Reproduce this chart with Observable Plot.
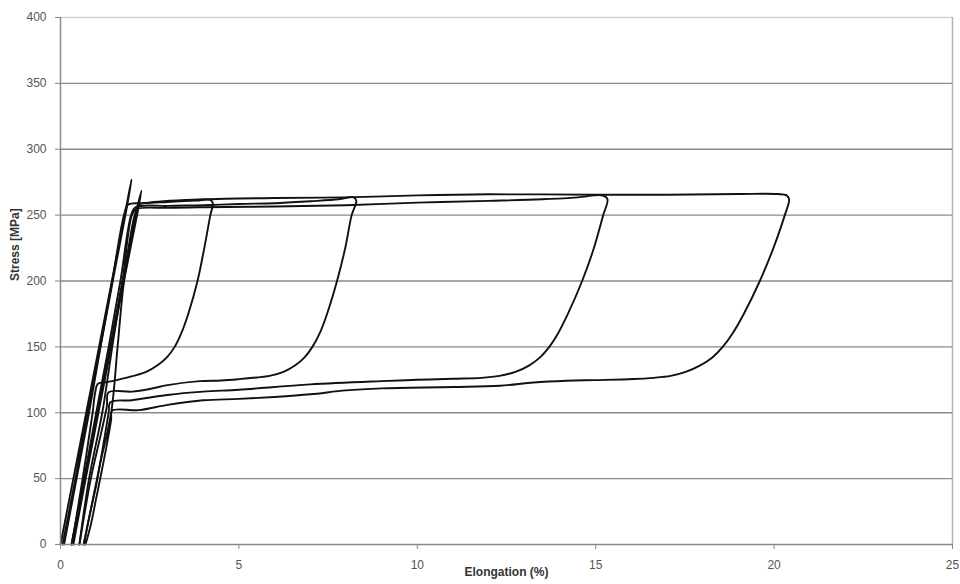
<!DOCTYPE html>
<html>
<head>
<meta charset="utf-8">
<script src="https://cdn.jsdelivr.net/npm/d3@7"></script>
<script src="https://cdn.jsdelivr.net/npm/@observablehq/plot@0.6"></script>
<style>
  html, body { margin: 0; padding: 0; background: #fff; }
  #chart { width: 960px; height: 584px; }
</style>
</head>
<body>
<div id="chart"></div>
<script>
// Tick values
const xTicks = [0, 5, 10, 15, 20, 25];
const yTicks = [0, 50, 100, 150, 200, 250, 300, 350, 400];

// Loops: [elongation %, stress MPa]
const spikeA = [[0,0],[0.36,50],[0.72,100],[1.08,150],[1.44,200],[1.8,250],[1.99,277],[1.86,256],[1.5,205],[1.12,150],[0.76,100],[0.42,50],[0.06,0]];
const spikeB = [[0.31,0],[0.67,50],[1.03,100],[1.39,150],[1.74,200],[2.1,250],[2.27,268.6],[2.16,252],[1.8,203],[1.1,105],[0.72,52],[0.36,0]];
const loop43 = [[0.1,0],[0.45,50],[0.8,100],[1.12,150],[1.45,200],[1.78,250],[1.9,258],[2.3,259],[3.0,260],[3.8,261],[4.2,261.5],[4.27,259],[4.2,250],[4.03,225],[3.84,200],[3.58,175],[3.38,160],[3.2,150],[2.98,142],[2.72,136],[2.4,131],[2.05,128],[1.6,125],[1.3,123.3],[1.05,122],[0.97,115],[0.9,100],[0.62,50],[0.32,0]];
const loop83 = [[0.31,0],[0.66,50],[1.0,100],[1.35,150],[1.68,200],[1.98,250],[2.1,256],[3,257],[4,257.5],[5,258.5],[6,259],[7,260.5],[7.8,262],[8.2,263.6],[8.29,261],[8.16,250],[7.98,225],[7.75,200],[7.47,175],[7.26,160],[7.06,150],[6.84,142],[6.58,136],[6.25,131],[5.86,128],[5.5,126.8],[5,125.5],[4.5,124.5],[3.9,124],[3.0,121],[2.5,118],[2.0,116],[1.35,115.5],[1.3,105],[1.2,92],[1.1,80],[0.85,50],[0.53,0]];
const loop153 = [[0.53,0],[0.8,50],[1.17,100],[1.45,150],[1.74,200],[2.0,250],[2.12,254.5],[3,255.5],[4,256],[6,256.5],[8,257.5],[10,259.5],[12,260.8],[13.5,262],[14.5,263.5],[15.2,264.9],[15.33,262],[15.21,250],[14.95,225],[14.62,200],[14.22,175],[13.94,160],[13.7,150],[13.44,142],[13.14,136],[12.75,131],[12.3,128],[11.8,126.5],[11,125.8],[10,125],[9,124],[7,121.5],[5,117.5],[4,116],[3,113.5],[2.0,109.5],[1.4,108],[1.35,100],[1.3,92],[1.1,60],[0.95,40],[0.8,20],[0.65,0]];
const loop203 = [[0.65,0],[0.8,20],[1.0,45],[1.1,60],[1.42,100],[1.6,150],[1.78,200],[2.08,250],[2.2,258],[2.5,259.5],[4,262],[6,263],[8,263.5],[10,265],[12,265.8],[15,265.5],[17,265.5],[19,266],[20.1,266],[20.35,265],[20.42,262],[20.3,250],[19.98,225],[19.6,200],[19.15,175],[18.83,160],[18.56,150],[18.27,142],[17.93,136],[17.52,131],[17.1,128],[16.6,126.5],[16.06,125.6],[15,124.8],[14.19,124.3],[13.26,123],[12.32,120.5],[11,119.5],[9,118.5],[8,117],[7,114],[6,112],[5,110.5],[4,109.5],[3,106],[2.2,102],[1.45,101.6],[1.42,95],[1.38,88],[1.15,55],[1.0,35],[0.85,15],[0.7,0]];

const loops = [spikeA, spikeB, loop43, loop83, loop153, loop203];
const rows = loops.flatMap((pts, i) => pts.map(([x, y]) => ({x, y, loop: i})));

const font = "'Liberation Sans', Arial, sans-serif";

const chart = Plot.plot({
  width: 960,
  height: 584,
  marginLeft: 60,
  marginRight: 8,
  marginTop: 17,
  marginBottom: 40,
  style: { fontFamily: font, fontSize: "12px", background: "#fff" },
  x: { domain: [0, 25] },
  y: { domain: [0, 400] },
  marks: [
    Plot.ruleY(yTicks.filter(d => d > 0 && d < 400), { stroke: "#8a8a8a", strokeWidth: 1.3, strokeOpacity: 1 }),
    Plot.ruleY([400], { stroke: "#d0d0d0", strokeWidth: 1.3 }),
    Plot.ruleX([25], { stroke: "#b5b5b5", strokeWidth: 1.5 }),
    Plot.line(rows, { x: "x", y: "y", z: "loop", stroke: "#111", strokeWidth: 1.9, curve: "catmull-rom" }),
    Plot.ruleY([0], { stroke: "#8a8a8a", strokeWidth: 1.5 }),
    Plot.ruleX([0], { stroke: "#8a8a8a", strokeWidth: 1.5 }),
    Plot.axisY(yTicks, { tickSize: 5, tickPadding: 9, stroke: "#8a8a8a", color: "#555", label: null, fontSize: 12 }),
    Plot.axisX(xTicks, { tickSize: 5, tickPadding: 11, stroke: "#8a8a8a", color: "#555", label: null, fontSize: 12 }),
    Plot.text(["Stress [MPa]"], { frameAnchor: "left", dx: -45, rotate: -90, text: d => d, fontWeight: "bold", fill: "#333", fontSize: 12 }),
    Plot.text(["Elongation (%)"], { frameAnchor: "bottom", dy: 31, text: d => d, fontWeight: "bold", fill: "#333", fontSize: 12 })
  ]
});

document.getElementById("chart").appendChild(chart);
</script>
</body>
</html>
